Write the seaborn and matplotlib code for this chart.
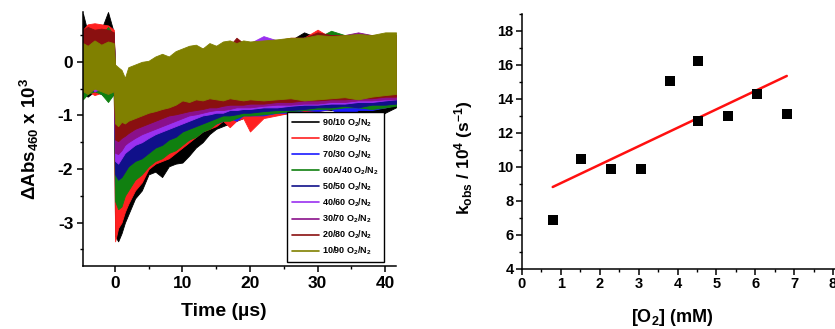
import matplotlib
matplotlib.use("Agg")
import matplotlib.pyplot as plt
import seaborn as sns
import numpy as np
import pandas as pd
from matplotlib.lines import Line2D
from matplotlib.ticker import MultipleLocator

# ---------------- data: left panel (transient traces, envelopes) -------------
time_us = [-4.7, -4, -3, -2, -1, -0.15, 0.05, 0.5, 1, 1.5, 2, 3, 4, 5, 6, 7, 8, 9, 10,
           11, 12, 13, 14, 15, 16, 17, 18, 19, 20, 22, 24, 26, 28, 30, 32, 34, 36, 38, 40, 41.6]

labels = ["90/10 O$_2$/N$_2$", "80/20 O$_2$/N$_2$", "70/30 O$_2$/N$_2$", "60A/40 O$_2$/N$_2$",
          "50/50 O$_2$/N$_2$", "40/60 O$_2$/N$_2$", "30/70 O$_2$/N$_2$", "20/80 O$_2$/N$_2$",
          "10/90 O$_2$/N$_2$"]
colors = ["#000000", "#ff2020", "#1a1aff", "#108010", "#10108a", "#9a30f0", "#8a108a", "#8a1010", "#808000"]

low_90_10 = [-0.6, -0.65, -0.55, -0.6, -0.7, -0.6, -3.25, -3.35, -3.2, -3.0, -2.85,
             -2.55, -2.4, -2.1, -2.05, -2.15, -1.95, -1.9, -1.88,
             -1.75, -1.6, -1.5, -1.35, -1.25, -1.2, -1.15, -1.1, -1.05, -1.05,
             -1.0, -0.98, -0.95, -0.92, -0.9, -0.9, -0.88, -1.0, -1.15, -0.95, -0.85]
high_90_10 = [0.9, 0.55, 0.7, 0.6, 0.93, 0.55, -0.3, -0.35, -0.4, -0.45, -0.3,
              -0.25, -0.2, -0.15, -0.1, -0.05, 0.0, 0.05, 0.1,
              0.15, 0.2, 0.2, 0.25, 0.25, 0.3, 0.3, 0.3, 0.35, 0.35,
              0.35, 0.4, 0.4, 0.55, 0.45, 0.45, 0.5, 0.45, 0.5, 0.5, 0.5]

low_80_20 = [-0.6, -0.55, -0.62, -0.58, -0.6, -0.55, -3.35, -3.1, -3.0, -2.8, -2.65,
             -2.4, -2.25, -2.0, -1.9, -1.85, -1.8, -1.7, -1.6,
             -1.5, -1.4, -1.3, -1.25, -1.2, -1.1, -1.22, -1.1, -1.05, -1.3,
             -1.05, -1.0, -0.95, -0.95, -0.92, -0.88, -0.9, -0.85, -0.88, -0.85, -0.8]
high_80_20 = [0.6, 0.7, 0.72, 0.7, 0.68, 0.6, -0.3, -0.35, -0.4, -0.45, -0.3,
              -0.25, -0.2, -0.15, -0.1, -0.05, 0.0, 0.05, 0.1,
              0.15, 0.2, 0.25, 0.2, 0.3, 0.25, 0.3, 0.35, 0.3, 0.35,
              0.35, 0.4, 0.45, 0.45, 0.6, 0.45, 0.5, 0.5, 0.5, 0.5, 0.5]

low_70_30 = [-0.55, -0.6, -0.5, -0.6, -0.55, -0.5, -2.3, -2.4, -2.3, -2.2, -2.1,
             -2.0, -1.9, -1.85, -1.75, -1.7, -1.6, -1.55, -1.5,
             -1.45, -1.35, -1.3, -1.2, -1.15, -1.1, -1.05, -1.1, -1.0, -1.0,
             -1.0, -0.95, -0.95, -0.9, -0.92, -0.88, -1.05, -0.9, -0.9, -0.85, -0.8]
high_70_30 = [0.5, 0.45, 0.5, 0.55, 0.5, 0.45, -0.3, -0.35, -0.4, -0.45, -0.3,
              -0.25, -0.2, -0.15, -0.1, -0.05, 0.0, 0.05, 0.1,
              0.15, 0.2, 0.2, 0.25, 0.25, 0.3, 0.3, 0.3, 0.35, 0.35,
              0.35, 0.35, 0.4, 0.45, 0.45, 0.5, 0.5, 0.5, 0.5, 0.5, 0.5]

low_60_40 = [-0.7, -0.6, -0.55, -0.6, -0.75, -0.6, -2.6, -2.75, -2.7, -2.5, -2.4,
             -2.2, -2.1, -1.95, -1.85, -1.8, -1.7, -1.65, -1.55,
             -1.45, -1.4, -1.3, -1.25, -1.15, -1.1, -1.1, -1.05, -1.0, -1.0,
             -0.98, -0.95, -0.92, -0.9, -0.88, -0.88, -0.85, -0.85, -0.88, -0.85, -0.82]
high_60_40 = [0.5, 0.55, 0.45, 0.5, 0.65, 0.5, -0.3, -0.35, -0.4, -0.45, -0.3,
              -0.25, -0.2, -0.15, -0.1, -0.05, 0.0, 0.05, 0.1,
              0.15, 0.2, 0.2, 0.25, 0.25, 0.3, 0.3, 0.3, 0.35, 0.35,
              0.35, 0.4, 0.4, 0.45, 0.45, 0.58, 0.5, 0.5, 0.5, 0.5, 0.5]

low_50_50 = [-0.55, -0.5, -0.55, -0.5, -0.6, -0.5, -2.1, -2.2, -2.15, -2.05, -1.95,
             -1.85, -1.8, -1.7, -1.6, -1.55, -1.45, -1.4, -1.3,
             -1.25, -1.2, -1.15, -1.1, -1.05, -1.0, -1.0, -0.98, -0.95, -0.95,
             -0.92, -0.9, -0.9, -0.88, -0.85, -0.85, -0.82, -0.85, -0.8, -0.8, -0.78]
high_50_50 = [0.45, 0.5, 0.45, 0.5, 0.45, 0.45, -0.3, -0.35, -0.4, -0.45, -0.3,
              -0.25, -0.2, -0.15, -0.1, -0.05, 0.0, 0.05, 0.1,
              0.15, 0.2, 0.2, 0.25, 0.25, 0.3, 0.3, 0.3, 0.35, 0.35,
              0.35, 0.4, 0.4, 0.45, 0.45, 0.5, 0.5, 0.5, 0.5, 0.5, 0.5]

low_40_60 = [-0.5, -0.45, -0.55, -0.5, -0.5, -0.45, -1.85, -1.9, -1.8, -1.7, -1.65,
             -1.55, -1.5, -1.42, -1.35, -1.3, -1.25, -1.2, -1.15,
             -1.1, -1.05, -1.0, -0.98, -0.95, -0.95, -0.9, -0.9, -0.88, -0.88,
             -0.85, -0.85, -0.82, -0.8, -0.8, -0.78, -0.78, -0.75, -0.75, -0.72, -0.7]
high_40_60 = [0.55, 0.5, 0.5, 0.45, 0.5, 0.45, -0.3, -0.35, -0.4, -0.45, -0.3,
              -0.25, -0.2, -0.15, -0.1, -0.05, 0.0, 0.05, 0.1,
              0.15, 0.2, 0.2, 0.25, 0.25, 0.3, 0.3, 0.3, 0.35, 0.35,
              0.48, 0.4, 0.4, 0.45, 0.45, 0.5, 0.5, 0.5, 0.5, 0.5, 0.5]

low_30_70 = [-0.5, -0.5, -0.45, -0.5, -0.55, -0.5, -1.7, -1.72, -1.65, -1.55, -1.5,
             -1.42, -1.35, -1.3, -1.25, -1.2, -1.15, -1.1, -1.05,
             -1.0, -0.98, -0.95, -0.92, -0.9, -0.9, -0.88, -0.85, -0.85, -0.85,
             -0.82, -0.8, -0.8, -0.78, -0.78, -0.75, -0.75, -0.72, -0.72, -0.7, -0.7]
high_30_70 = [0.6, 0.55, 0.5, 0.55, 0.5, 0.5, -0.3, -0.35, -0.4, -0.45, -0.3,
              -0.25, -0.2, -0.15, -0.1, -0.05, 0.0, 0.05, 0.1,
              0.15, 0.2, 0.2, 0.25, 0.25, 0.3, 0.3, 0.3, 0.35, 0.35,
              0.35, 0.4, 0.4, 0.45, 0.45, 0.5, 0.5, 0.55, 0.5, 0.5, 0.5]

low_20_80 = [-0.5, -0.48, -0.45, -0.5, -0.5, -0.45, -1.45, -1.48, -1.42, -1.38, -1.33,
             -1.25, -1.2, -1.15, -1.1, -1.05, -1.0, -0.98, -0.95,
             -0.92, -0.9, -0.88, -0.85, -0.85, -0.82, -0.8, -0.8, -0.8, -0.78,
             -0.78, -0.75, -0.75, -0.72, -0.72, -0.7, -0.7, -0.68, -0.68, -0.65, -0.65]
high_20_80 = [0.6, 0.65, 0.6, 0.62, 0.6, 0.55, -0.3, -0.35, -0.4, -0.45, -0.3,
              -0.25, -0.2, -0.15, -0.1, -0.05, 0.0, 0.05, 0.1,
              0.15, 0.2, 0.2, 0.25, 0.25, 0.3, 0.3, 0.45, 0.35, 0.35,
              0.35, 0.4, 0.4, 0.45, 0.55, 0.5, 0.5, 0.5, 0.5, 0.5, 0.5]

low_10_90 = [-0.55, -0.6, -0.5, -0.55, -0.6, -0.55, -1.15, -1.2, -1.12, -1.15, -1.1,
             -1.05, -1.0, -0.95, -0.92, -0.88, -0.85, -0.8, -0.72,
             -0.75, -0.7, -0.72, -0.68, -0.7, -0.72, -0.68, -0.7, -0.72, -0.7,
             -0.72, -0.7, -0.68, -0.72, -0.7, -0.68, -0.66, -0.7, -0.65, -0.62, -0.6]
high_10_90 = [0.35, 0.3, 0.4, 0.32, 0.38, 0.35, -0.05, -0.1, -0.15, -0.3, -0.1,
              -0.05, 0.0, 0.02, 0.1, 0.15, 0.1, 0.2, 0.25,
              0.3, 0.32, 0.25, 0.35, 0.3, 0.38, 0.4, 0.35, 0.4, 0.38,
              0.4, 0.42, 0.45, 0.45, 0.5, 0.48, 0.5, 0.52, 0.5, 0.55, 0.55]

lows = [low_90_10, low_80_20, low_70_30, low_60_40, low_50_50, low_40_60, low_30_70, low_20_80, low_10_90]
highs = [high_90_10, high_80_20, high_70_30, high_60_40, high_50_50, high_40_60, high_30_70, high_20_80, high_10_90]

# ---------------- data: right panel -------------
o2_mM = [0.79, 1.53, 2.30, 3.05, 3.80, 4.52, 4.52, 5.30, 6.05, 6.81]
kobs = [6.85, 10.45, 9.9, 9.85, 15.08, 16.25, 12.72, 13.02, 14.3, 13.13]

# ---------------- style -------------
sns.set_theme(style="ticks")
plt.rcParams["font.family"] = ["Liberation Sans", "DejaVu Sans"]
plt.rcParams["font.weight"] = "bold"
plt.rcParams["mathtext.default"] = "regular"
plt.rcParams["axes.unicode_minus"] = False
plt.rcParams["axes.linewidth"] = 1.1
plt.rcParams["xtick.direction"] = "out"
plt.rcParams["ytick.direction"] = "out"
for key in ["text.color", "axes.labelcolor", "xtick.color", "ytick.color",
            "xtick.labelcolor", "ytick.labelcolor", "axes.edgecolor"]:
    plt.rcParams[key] = "black"

fig = plt.figure(figsize=(8.35, 3.29), dpi=100)
W, H = 835, 329

def px_axes(l, t, r, b):
    return fig.add_axes([l / W, 1 - b / H, (r - l) / W, (b - t) / H])

# ---------------- left panel -------------
ax1 = px_axes(83, 12, 396, 266)
for lo, hi, c in zip(lows, highs, colors):
    ax1.fill_between(time_us, lo, hi, color=c, lw=0.6, edgecolor=c)
ax1.set_xlim(-4.7, 41.6)
ax1.set_ylim(-3.81, 0.93)
ax1.xaxis.set_major_locator(MultipleLocator(10))
ax1.xaxis.set_minor_locator(MultipleLocator(5))
ax1.yaxis.set_major_locator(MultipleLocator(1))
ax1.yaxis.set_minor_locator(MultipleLocator(0.5))
ax1.tick_params(which="major", length=4, width=1.1, labelsize=12.5, pad=3, color="black")
ax1.tick_params(which="minor", length=2.5, width=1.0, color="black")
for s in ["top", "right"]:
    ax1.spines[s].set_visible(False)
for lab in ax1.get_xticklabels() + ax1.get_yticklabels():
    lab.set_fontweight("bold")
ax1.set_xlabel("Time (µs)", fontsize=14, fontweight="bold")
ax1.xaxis.set_label_coords(0.45, -0.145)
ax1.set_ylabel("ΔAbs$_{460}$ x 10$^3$", fontsize=13.5, fontweight="bold")
ax1.yaxis.set_label_coords(-0.135, 0.5)

handles = [Line2D([0], [0], color=c, lw=1.2) for c in colors]
leg = ax1.legend(handles, labels, loc="lower left", bbox_to_anchor=(0.652, 0.016),
                 fontsize=6.5, frameon=True, fancybox=False, edgecolor="black",
                 framealpha=1, handlelength=3.0, labelspacing=0.4, borderpad=0.5,
                 handletextpad=0.4, borderaxespad=0)
leg.get_frame().set_linewidth(1.0)
for t in leg.get_texts():
    t.set_fontweight("bold")

# ---------------- right panel -------------
ax2 = px_axes(522, 14, 835, 268.7)
df = pd.DataFrame({"o2": o2_mM, "k": kobs})
sns.regplot(data=df, x="o2", y="k", ax=ax2, ci=None, scatter=False,
            line_kws={"color": "#ff1010", "lw": 1.8})
sns.scatterplot(data=df, x="o2", y="k", ax=ax2, marker="s", s=48, color="black",
                edgecolor="black", linewidth=0, zorder=3)
ax2.set_xlim(0, 8.05)
ax2.set_ylim(4, 19)
ax2.xaxis.set_major_locator(MultipleLocator(1))
ax2.xaxis.set_minor_locator(MultipleLocator(0.5))
ax2.yaxis.set_major_locator(MultipleLocator(2))
ax2.yaxis.set_minor_locator(MultipleLocator(1))
ax2.tick_params(which="major", length=4, width=1.1, labelsize=10.5, pad=2, color="black")
ax2.tick_params(which="minor", length=2.5, width=1.0, color="black")
for s in ["top", "right"]:
    ax2.spines[s].set_visible(False)
for lab in ax2.get_xticklabels() + ax2.get_yticklabels():
    lab.set_fontweight("bold")
ax2.set_xlabel("[O$_2$] (mM)", fontsize=13, fontweight="bold")
ax2.xaxis.set_label_coords(0.48, -0.15)
ax2.set_ylabel("k$_{obs}$ / 10$^4$ (s$^{-1}$)", fontsize=12.5, fontweight="bold")
ax2.yaxis.set_label_coords(-0.15, 0.435)

fig.savefig("out.png", dpi=100)
